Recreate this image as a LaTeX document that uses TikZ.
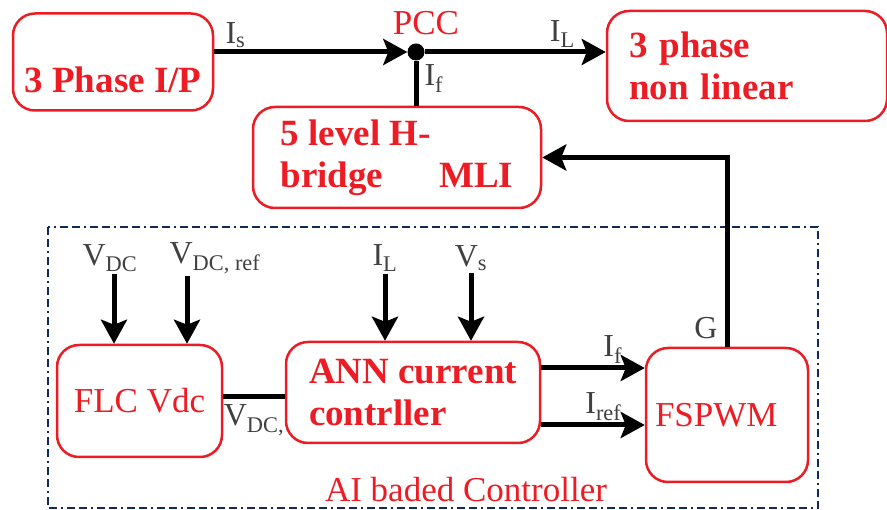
\documentclass[tikz,border=0pt]{standalone}
\usepackage{fontspec}
\setmainfont{Liberation Serif}
\usepackage{tikz}
\usetikzlibrary{arrows.meta}
\definecolor{boxred}{HTML}{ED1C24}
\definecolor{navyline}{HTML}{102A5E}

\begin{document}
\begin{tikzpicture}[x=1pt, y=-1pt,
        blk/.style={draw=boxred, line width=2.5pt, rounded corners=22pt, text=boxred, inner sep=0pt},
        blkb/.style={blk, font=\bfseries\fontsize{37}{42}\selectfont},
        blkr/.style={blk, font=\fontsize{35}{42}\selectfont},
        sig/.style={text=black!75, font=\fontsize{32}{38}\selectfont, inner sep=2pt},
        redtxt/.style={text=boxred, font=\fontsize{35}{42}\selectfont, inner sep=1pt},
        wire/.style={line width=5pt},
        arr/.style={wire, -{Stealth[length=24pt, width=26pt, inset=5pt]}},
        ctrlframe/.style={draw=navyline, line width=2.5pt, dash pattern=on 8pt off 4pt on 8pt off 4pt on 2pt off 4pt}]
        \useasboundingbox (0,0) rectangle (887,510);

        \node[blkb, minimum width=200pt, minimum height=97pt, text height=62pt, text depth=0pt] (inp) at (113,62) {3 Phase I/P};
        \node[blkb, minimum width=288pt, minimum height=101pt, align=left] (mli) at (397,157.5) {5 level H-\\bridge\hspace{56pt}MLI};
        \node[blkb, minimum width=280pt, minimum height=110pt, text width=236pt, align=left] (load) at (747,66) {3 phase\\non linear};

        \node[circle, fill=black, inner sep=0pt, minimum size=17pt,
            label={[redtxt, xshift=10pt, yshift=7pt]above:PCC}] (pcc) at (416,52) {};

        \draw[ctrlframe] (48,227) rectangle (818,508);

        \node[blkr, minimum width=165pt, minimum height=112pt] (flc) at (139.5,401) {FLC Vdc};
        \node[blkb, minimum width=254pt, minimum height=101pt, align=left] (ann) at (413,392.5) {ANN current\\contrller};
        \node[blkr, minimum width=162pt, minimum height=134pt, text width=144pt, align=left] (fspwm) at (727,415) {FSPWM};

        \node[sig] (vdc) at (110,258) {V\textsubscript{DC}};
        \node[sig] (vdcref) at (215,258) {V\textsubscript{DC, ref}};
        \node[sig] (il) at (385,258) {I\textsubscript{L}};
        \node[sig] (vs) at (471,258) {V\textsubscript{s}};

        \node[redtxt] (aictl) at (466,490) {AI baded Controller};

        \draw[arr] (inp.east |- pcc) -- (pcc) node[sig, pos=0.11, above] {I\textsubscript{s}};
        \draw[arr] (pcc) -- (pcc -| load.west) node[sig, pos=0.76, above] {I\textsubscript{L}};
        \draw[wire] (pcc) -- (pcc |- mli.north) node[sig, pos=0.4, right=4pt] {I\textsubscript{f}};
        \draw[arr] (fspwm.north) |- (mli.east) node[sig, pos=0.05, left=5pt] {G};

        \draw[arr] ([xshift=4pt]vdc.south) -- ([xshift=4pt]vdc.south |- flc.north);
        \draw[arr] ([xshift=-28pt]vdcref.south) -- ([xshift=-28pt]vdcref.south |- flc.north);
        \draw[arr] (il) -- (il |- ann.north);
        \draw[arr] (vs) -- (vs |- ann.north);

        \draw[wire] ([yshift=4.5pt]flc.east) -- ([yshift=4.5pt]flc.east -| ann.west) node[sig, midway, below=4pt] {V\textsubscript{DC,}};
        \draw[arr] ([yshift=24.5pt]ann.east) -- ([yshift=24.5pt]ann.east -| fspwm.west) node[sig, pos=0.69, above] {I\textsubscript{f}};
        \draw[arr] ([yshift=-32.5pt]ann.east) -- ([yshift=-32.5pt]ann.east -| fspwm.west) node[sig, pos=0.6, above] {I\textsubscript{ref}};
    \end{tikzpicture}
\end{document}
